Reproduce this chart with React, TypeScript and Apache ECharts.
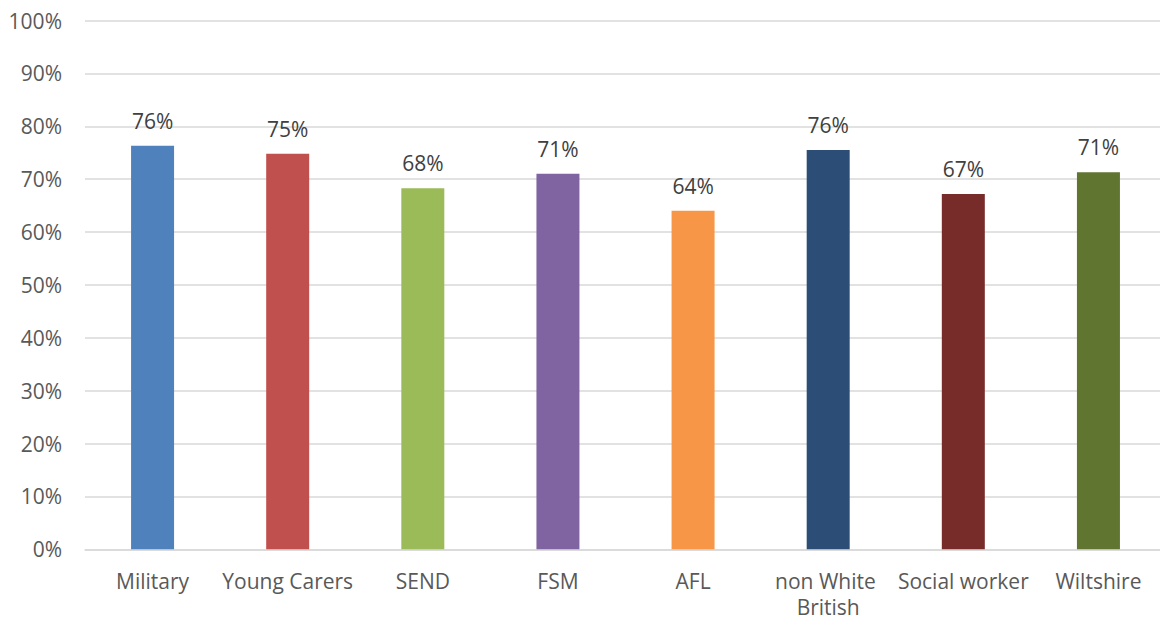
import React, { useEffect, useRef } from "react";
import * as echarts from "echarts";

const categories = [
  "Military",
  "Young Carers",
  "SEND",
  "FSM",
  "AFL",
  "non White British",
  "Social worker",
  "Wiltshire",
];
const values = [76.3, 74.8, 68.3, 71.0, 64.0, 75.5, 67.2, 71.3];
const barColors = [
  "#4F81BD",
  "#C0504D",
  "#9BBB59",
  "#8064A2",
  "#F79646",
  "#2C4D75",
  "#772C2A",
  "#5F7530",
];

const FONT = "'Open Sans', 'Noto Sans', sans-serif";

export default function App() {
  const ref = useRef<HTMLDivElement>(null);
  useEffect(() => {
    if (!ref.current) return;
    const chart = echarts.init(ref.current, null, { renderer: "svg" });
    chart.setOption({
      animation: false,
      backgroundColor: "#ffffff",
      textStyle: { fontFamily: FONT },
      grid: {
        left: 85,
        right: 0,
        top: 20.5,
        bottom: 71.7,
        containLabel: false,
        outerBoundsMode: "none",
      },
      xAxis: {
        type: "category",
        data: categories,
        axisLine: { show: true, lineStyle: { color: "#d9d9d9", width: 1.5 } },
        axisTick: { show: false },
        axisLabel: {
          color: "#595959",
          fontSize: 21,
          fontFamily: FONT,
          margin: 19,
          lineHeight: 26,
          width: 134,
          overflow: "break",
          interval: 0,
        },
      },
      yAxis: {
        type: "value",
        min: 0,
        max: 100,
        interval: 10,
        axisLine: { show: false },
        axisTick: { show: false },
        splitLine: { lineStyle: { color: "#d9d9d9", width: 1.5 } },
        axisLabel: {
          color: "#595959",
          fontSize: 21,
          fontFamily: FONT,
          margin: 23,
          formatter: "{value}%",
        },
      },
      series: [
        {
          type: "bar",
          barWidth: 43,
          data: values.map((v, i) => ({ value: v, itemStyle: { color: barColors[i] } })),
          label: {
            show: true,
            position: "top",
            distance: 13,
            color: "#404040",
            fontSize: 21,
            fontFamily: FONT,
            lineHeight: 24,
            formatter: (p: any) => Math.round(p.value) + "%",
          },
        },
      ],
    });
    return () => chart.dispose();
  }, []);
  return (
    <div
      style={{
        position: "absolute",
        left: 0,
        top: 0,
        width: 1160,
        height: 621,
        overflow: "hidden",
        background: "#ffffff",
      }}
    >
      <div ref={ref} style={{ width: 1166, height: 621 }} />
    </div>
  );
}
